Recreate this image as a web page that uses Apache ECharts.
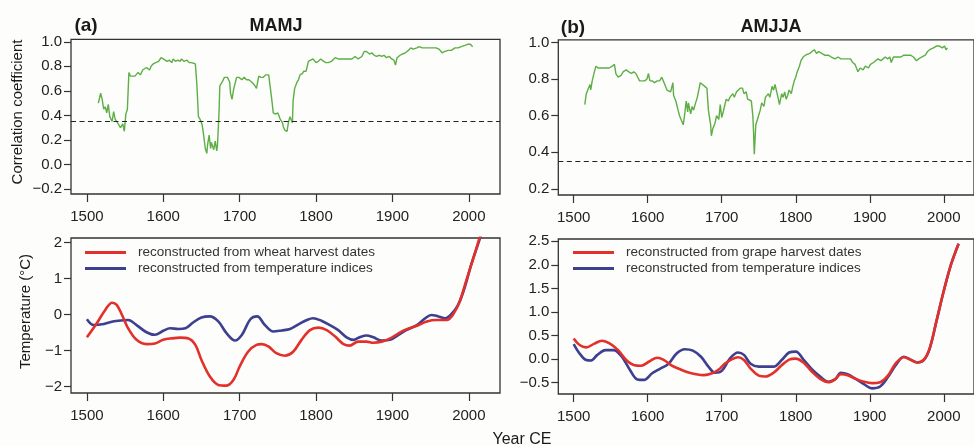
<!DOCTYPE html>
<html>
<head>
<meta charset="utf-8">
<title>Running correlation and temperature reconstructions</title>
<style>
  html, body { margin: 0; padding: 0; background: #fdfdfb; }
  #chart { width: 974px; height: 445px; }
</style>
<script src="https://cdn.jsdelivr.net/npm/echarts@6/dist/echarts.min.js"></script>
</head>
<body>
<div id="chart"></div>
<script>
// Tick positions
const yearTicks = [1500, 1600, 1700, 1800, 1900, 2000];
const corrTicksMamj = [-0.2, 0, 0.2, 0.4, 0.6, 0.8, 1.0];
const corrTicksAmjja = [0.2, 0.4, 0.6, 0.8, 1.0];
const tempTicksMamj = [-2, -1, 0, 1, 2];
const tempTicksAmjja = [-0.5, 0, 0.5, 1, 1.5, 2, 2.5];

// Significance threshold of the running correlation
const significanceLevel = 0.35;

// Running correlation, MAMJ (year, r)
const corrMamj = [
  [1515,0.50],[1518,0.58],[1520,0.53],[1522,0.45],[1524,0.47],[1526,0.42],[1528,0.49],[1530,0.39],
  [1533,0.35],[1535,0.43],[1537,0.37],[1539,0.35],[1541,0.36],[1544,0.30],[1547,0.33],[1549,0.27],
  [1551,0.41],[1553,0.45],[1555,0.75],[1557,0.72],[1559,0.73],[1563,0.72],[1567,0.75],[1570,0.73],
  [1573,0.77],[1575,0.77],[1578,0.79],[1582,0.77],[1584,0.80],[1587,0.82],[1590,0.83],[1594,0.84],
  [1597,0.87],[1600,0.86],[1605,0.84],[1608,0.85],[1611,0.83],[1613,0.86],[1616,0.84],[1619,0.85],
  [1622,0.84],[1624,0.86],[1627,0.84],[1631,0.85],[1634,0.83],[1637,0.83],[1642,0.82],[1644,0.65],
  [1646,0.39],[1648,0.37],[1650,0.34],[1651,0.32],[1653,0.23],[1655,0.13],[1657,0.09],[1658,0.16],
  [1660,0.24],[1662,0.13],[1663,0.18],[1666,0.12],[1668,0.19],[1670,0.11],[1671,0.16],[1673,0.43],
  [1674,0.64],[1677,0.67],[1680,0.71],[1684,0.71],[1687,0.67],[1688,0.58],[1690,0.53],[1692,0.61],
  [1694,0.62],[1696,0.71],[1699,0.71],[1703,0.69],[1706,0.71],[1709,0.69],[1712,0.69],[1716,0.67],
  [1719,0.65],[1722,0.62],[1724,0.61],[1725,0.72],[1728,0.71],[1731,0.71],[1734,0.73],[1738,0.73],
  [1740,0.73],[1742,0.53],[1744,0.42],[1747,0.41],[1750,0.42],[1753,0.37],[1756,0.34],[1757,0.31],
  [1759,0.28],[1762,0.27],[1764,0.35],[1766,0.39],[1767,0.37],[1769,0.34],[1770,0.52],[1772,0.62],
  [1775,0.67],[1777,0.69],[1779,0.73],[1782,0.74],[1784,0.76],[1787,0.76],[1790,0.84],[1793,0.85],
  [1796,0.86],[1800,0.83],[1803,0.84],[1806,0.86],[1810,0.84],[1813,0.83],[1816,0.83],[1820,0.84],
  [1825,0.87],[1829,0.86],[1833,0.86],[1838,0.86],[1842,0.86],[1847,0.86],[1851,0.88],[1855,0.86],
  [1860,0.88],[1863,0.92],[1866,0.92],[1870,0.90],[1873,0.91],[1876,0.89],[1879,0.88],[1883,0.89],
  [1886,0.88],[1889,0.89],[1892,0.87],[1896,0.88],[1899,0.86],[1902,0.85],[1904,0.81],[1906,0.87],
  [1910,0.89],[1913,0.90],[1917,0.91],[1921,0.93],[1924,0.95],[1927,0.94],[1932,0.95],[1935,0.96],
  [1939,0.95],[1944,0.95],[1948,0.95],[1952,0.95],[1957,0.95],[1961,0.94],[1965,0.91],[1968,0.92],
  [1973,0.93],[1977,0.93],[1982,0.95],[1986,0.95],[1990,0.96],[1995,0.97],[1999,0.98],[2002,0.98],
  [2005,0.96]
];

// Running correlation, AMJJA (year, r)
const corrAmjja = [
  [1515,0.66],[1517,0.72],[1519,0.74],[1520,0.75],[1522,0.77],[1523,0.74],[1525,0.79],[1528,0.84],
  [1530,0.87],[1533,0.86],[1536,0.86],[1541,0.86],[1545,0.86],[1548,0.86],[1552,0.87],[1555,0.88],
  [1557,0.83],[1560,0.81],[1564,0.82],[1567,0.84],[1571,0.85],[1574,0.84],[1578,0.83],[1581,0.84],
  [1584,0.83],[1586,0.84],[1589,0.79],[1593,0.79],[1596,0.79],[1599,0.80],[1601,0.83],[1603,0.79],
  [1606,0.79],[1609,0.78],[1613,0.79],[1616,0.79],[1619,0.81],[1621,0.79],[1624,0.76],[1626,0.74],
  [1628,0.75],[1631,0.73],[1634,0.78],[1635,0.71],[1638,0.68],[1641,0.63],[1643,0.60],[1646,0.57],
  [1648,0.55],[1650,0.61],[1652,0.68],[1654,0.62],[1655,0.67],[1658,0.61],[1660,0.65],[1662,0.63],
  [1664,0.66],[1667,0.70],[1671,0.78],[1674,0.77],[1677,0.76],[1680,0.75],[1682,0.63],[1685,0.55],
  [1686,0.49],[1688,0.53],[1691,0.56],[1693,0.60],[1696,0.58],[1698,0.66],[1700,0.59],[1702,0.62],
  [1704,0.63],[1706,0.69],[1709,0.68],[1711,0.70],[1713,0.69],[1715,0.72],[1717,0.70],[1720,0.73],
  [1722,0.72],[1725,0.75],[1728,0.75],[1730,0.72],[1733,0.73],[1735,0.69],[1737,0.69],[1740,0.68],
  [1742,0.60],[1743,0.51],[1744,0.39],[1746,0.55],[1749,0.59],[1752,0.63],[1754,0.67],[1757,0.65],
  [1759,0.70],[1761,0.69],[1763,0.72],[1765,0.70],[1768,0.76],[1770,0.74],[1772,0.77],[1774,0.78],
  [1776,0.70],[1778,0.66],[1781,0.72],[1783,0.70],[1785,0.73],[1787,0.69],[1789,0.71],[1791,0.74],
  [1794,0.72],[1796,0.76],[1798,0.79],[1800,0.81],[1802,0.84],[1805,0.87],[1807,0.90],[1810,0.92],
  [1813,0.93],[1815,0.93],[1819,0.94],[1822,0.95],[1825,0.96],[1828,0.94],[1831,0.95],[1835,0.94],
  [1839,0.93],[1844,0.93],[1848,0.92],[1853,0.91],[1857,0.92],[1861,0.91],[1866,0.91],[1870,0.91],
  [1874,0.91],[1877,0.89],[1880,0.88],[1882,0.86],[1884,0.84],[1887,0.86],[1891,0.85],[1894,0.87],
  [1898,0.86],[1901,0.88],[1905,0.89],[1908,0.90],[1911,0.91],[1915,0.90],[1918,0.91],[1921,0.92],
  [1924,0.91],[1927,0.92],[1929,0.89],[1932,0.92],[1937,0.92],[1942,0.92],[1946,0.93],[1951,0.93],
  [1955,0.93],[1959,0.92],[1963,0.90],[1966,0.91],[1970,0.92],[1975,0.93],[1978,0.95],[1981,0.96],
  [1986,0.97],[1990,0.98],[1994,0.98],[1998,0.97],[2001,0.98],[2003,0.96],[2005,0.97]
];

// MAMJ temperature anomaly (°C), reconstructed from wheat harvest dates
const tempWheat = [
  [1500,-0.63],[1513,-0.24],[1524,0.13],[1533,0.33],[1539,0.27],[1546,-0.01],[1554,-0.38],[1565,-0.70],
  [1578,-0.82],[1589,-0.80],[1600,-0.70],[1611,-0.66],[1622,-0.64],[1633,-0.66],[1642,-0.84],[1650,-1.26],
  [1661,-1.72],[1672,-1.95],[1683,-1.97],[1692,-1.81],[1700,-1.44],[1711,-1.03],[1722,-0.84],[1729,-0.82],
  [1738,-0.89],[1748,-1.07],[1759,-1.14],[1770,-1.03],[1781,-0.70],[1792,-0.43],[1803,-0.36],[1814,-0.43],
  [1825,-0.61],[1836,-0.82],[1844,-0.86],[1855,-0.75],[1866,-0.75],[1875,-0.78],[1886,-0.75],[1897,-0.66],
  [1908,-0.52],[1918,-0.41],[1932,-0.31],[1945,-0.19],[1958,-0.15],[1971,-0.15],[1979,-0.01],[1988,0.36],
  [1997,0.97],[2006,1.57],[2014,2.12],[2020,2.50]
];

// MAMJ temperature anomaly (°C), reconstructed from temperature indices
const tempIndicesMamj = [
  [1500,-0.13],[1509,-0.29],[1520,-0.27],[1530,-0.21],[1541,-0.17],[1554,-0.15],[1565,-0.29],[1578,-0.49],
  [1589,-0.56],[1600,-0.45],[1609,-0.38],[1620,-0.40],[1629,-0.38],[1639,-0.22],[1650,-0.08],[1661,-0.05],
  [1672,-0.19],[1683,-0.52],[1694,-0.72],[1703,-0.56],[1714,-0.13],[1723,-0.05],[1733,-0.29],[1744,-0.47],
  [1755,-0.44],[1766,-0.40],[1777,-0.27],[1788,-0.15],[1796,-0.10],[1807,-0.17],[1818,-0.29],[1829,-0.43],
  [1840,-0.63],[1849,-0.70],[1857,-0.63],[1866,-0.58],[1875,-0.63],[1886,-0.72],[1897,-0.70],[1908,-0.56],
  [1918,-0.43],[1932,-0.29],[1942,-0.12],[1951,-0.01],[1960,-0.05],[1969,-0.10],[1977,0.01],[1986,0.27],
  [1995,0.78],[2003,1.38],[2014,2.08],[2020,2.50]
];

// AMJJA temperature anomaly (°C), reconstructed from grape harvest dates
const tempGrape = [
  [1500,0.44],[1508,0.30],[1517,0.25],[1528,0.33],[1538,0.39],[1549,0.33],[1560,0.19],[1571,-0.02],
  [1582,-0.13],[1591,-0.14],[1602,-0.05],[1613,0.03],[1621,-0.01],[1632,-0.13],[1643,-0.21],[1654,-0.28],
  [1665,-0.32],[1676,-0.34],[1687,-0.30],[1696,-0.22],[1704,-0.10],[1713,-0.01],[1722,0.04],[1730,-0.02],
  [1739,-0.20],[1750,-0.35],[1759,-0.37],[1770,-0.29],[1781,-0.13],[1791,-0.01],[1800,0.01],[1811,-0.08],
  [1822,-0.27],[1833,-0.42],[1844,-0.49],[1853,-0.43],[1861,-0.32],[1870,-0.34],[1881,-0.42],[1892,-0.48],
  [1903,-0.51],[1914,-0.49],[1925,-0.34],[1935,-0.09],[1946,0.04],[1955,-0.01],[1964,-0.07],[1973,-0.01],
  [1981,0.23],[1990,0.80],[2000,1.45],[2010,2.02],[2020,2.45]
];

// AMJJA temperature anomaly (°C), reconstructed from temperature indices
const tempIndicesAmjja = [
  [1500,0.32],[1508,0.12],[1517,-0.02],[1523,-0.03],[1532,0.09],[1543,0.19],[1554,0.19],[1565,0.05],
  [1576,-0.23],[1586,-0.43],[1595,-0.44],[1606,-0.30],[1617,-0.20],[1628,-0.10],[1639,0.12],[1650,0.21],
  [1661,0.18],[1672,0.05],[1682,-0.16],[1691,-0.29],[1700,-0.25],[1711,0.01],[1722,0.14],[1730,0.09],
  [1739,-0.10],[1750,-0.16],[1761,-0.16],[1770,-0.16],[1781,-0.02],[1791,0.14],[1800,0.16],[1811,-0.02],
  [1822,-0.22],[1833,-0.37],[1844,-0.48],[1853,-0.43],[1861,-0.29],[1870,-0.32],[1881,-0.42],[1892,-0.53],
  [1903,-0.62],[1914,-0.58],[1925,-0.37],[1935,-0.13],[1946,0.05],[1955,-0.01],[1964,-0.07],[1973,-0.02],
  [1981,0.23],[1990,0.80],[2000,1.45],[2010,2.02],[2020,2.45]
];

const FONT = "'Liberation Sans', Arial, Helvetica, sans-serif";
const INK = '#222';
const FRAME = '#333';
const GREEN = '#5cae45';
const RED = '#e3302b';
const BLUE = '#3d3f8f';

const minus = s => s.replace('-', '\u2212');

function xAxis(gridIndex) {
  return {
    type: 'value', gridIndex, min: 1479.2, max: 2040.8, position: 'bottom',
    axisLine: { show: false, onZero: false }, splitLine: { show: false },
    axisTick: { show: true, length: 8, customValues: yearTicks, lineStyle: { color: FRAME, width: 1.2 } },
    axisLabel: {
      customValues: yearTicks, margin: 15, fontSize: 15, color: INK, fontFamily: FONT,
      formatter: v => String(Math.round(v))
    }
  };
}

function yAxis(gridIndex, min, max, ticks, digits) {
  return {
    type: 'value', gridIndex, min, max, position: 'left',
    axisLine: { show: false, onZero: false }, splitLine: { show: false },
    axisTick: { show: true, length: 7, customValues: ticks, lineStyle: { color: FRAME, width: 1.2 } },
    axisLabel: {
      customValues: ticks, margin: 9, fontSize: 15, color: INK, fontFamily: FONT,
      formatter: v => minus(Number(v).toFixed(digits))
    }
  };
}

const gridStyle = { show: true, borderColor: FRAME, borderWidth: 1.3, backgroundColor: 'transparent' };

function corrSeries(name, data, idx) {
  return {
    name, type: 'line', xAxisIndex: idx, yAxisIndex: idx, data,
    showSymbol: false, symbol: 'none', silent: true,
    lineStyle: { color: GREEN, width: 1.4 }, itemStyle: { color: GREEN },
    markLine: {
      silent: true, symbol: 'none', label: { show: false },
      lineStyle: { color: INK, width: 1.2, type: [5, 3.5] },
      data: [{ yAxis: significanceLevel }]
    }
  };
}

function tempSeries(name, data, idx, color) {
  return {
    name, type: 'line', xAxisIndex: idx, yAxisIndex: idx, data,
    showSymbol: false, symbol: 'none', smooth: 0.35, silent: true,
    lineStyle: { color, width: 2.6 }, itemStyle: { color }
  };
}

function legend(left, names) {
  return {
    orient: 'vertical', left, top: 244.5, padding: 0, itemGap: 0,
    icon: 'rect', itemWidth: 41, itemHeight: 3, selectedMode: false,
    textStyle: { fontSize: 13.5, lineHeight: 16, color: '#333', fontFamily: FONT, padding: [0, 0, 0, 7] },
    data: names
  };
}

function label(text, x, y, size, bold, rotate) {
  return {
    type: 'text', x, y, rotation: rotate ? Math.PI / 2 : 0, silent: true,
    style: {
      text, fill: '#1a1a1a', textAlign: 'center', textVerticalAlign: 'middle',
      font: (bold ? 'bold ' : '') + size + 'px ' + FONT
    }
  };
}

const chart = echarts.init(document.getElementById('chart'), null, { renderer: 'canvas' });

chart.setOption({
  animation: false,
  backgroundColor: '#fdfdfb',
  grid: [
    Object.assign({ left: 71, top: 39.3, width: 429, height: 154.7 }, gridStyle),
    Object.assign({ left: 558.3, top: 39.8, width: 429, height: 155.2 }, gridStyle),
    Object.assign({ left: 71, top: 238, width: 429, height: 155 }, gridStyle),
    Object.assign({ left: 558.3, top: 239, width: 429, height: 155 }, gridStyle)
  ],
  xAxis: [xAxis(0), xAxis(1), xAxis(2), xAxis(3)],
  yAxis: [
    yAxis(0, -0.241, 1.02, corrTicksMamj, 1),
    yAxis(1, 0.167, 1.014, corrTicksAmjja, 1),
    yAxis(2, -2.175, 2.125, tempTicksMamj, 0),
    yAxis(3, -0.74, 2.549, tempTicksAmjja, 1)
  ],
  legend: [
    legend(85, ['reconstructed from wheat harvest dates', 'reconstructed from temperature indices']),
    legend(573, ['reconstructed from grape harvest dates', 'reconstructed from temperature indices'])
  ],
  series: [
    corrSeries('MAMJ correlation', corrMamj, 0),
    corrSeries('AMJJA correlation', corrAmjja, 1),
    tempSeries('reconstructed from temperature indices', tempIndicesMamj, 2, BLUE),
    tempSeries('reconstructed from wheat harvest dates', tempWheat, 2, RED),
    tempSeries('reconstructed from temperature indices', tempIndicesAmjja, 3, BLUE),
    tempSeries('reconstructed from grape harvest dates', tempGrape, 3, RED)
  ],
  graphic: [
    label('(a)', 86, 26, 19, true),
    label('MAMJ', 276, 26, 18, true),
    label('(b)', 573, 27.5, 19, true),
    label('AMJJA', 771, 27.5, 18, true),
    label('Correlation coefficient', 17.5, 112, 15, false, true),
    label('Temperature (\u00B0C)', 25.5, 311.5, 15, false, true),
    label('Year CE', 522, 439.5, 16, false)
  ]
});
</script>
</body>
</html>
